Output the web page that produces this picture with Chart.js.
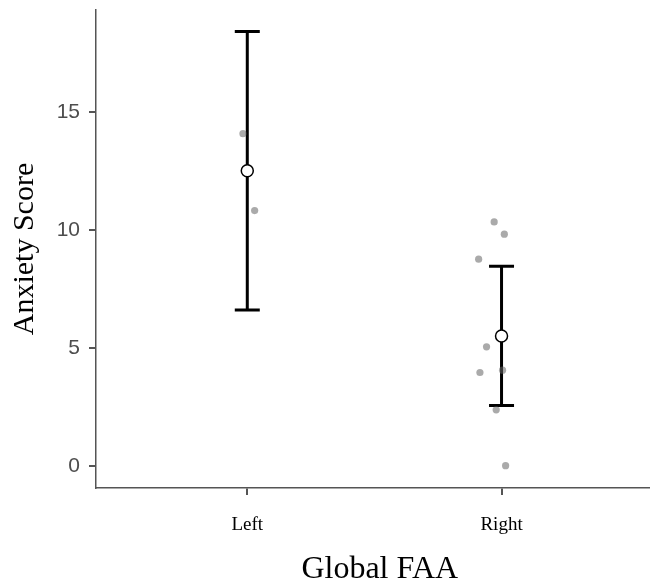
<!DOCTYPE html>
<html>
<head>
<meta charset="utf-8">
<script src="https://cdn.jsdelivr.net/npm/chart.js@4.4.0/dist/chart.umd.min.js"></script>
<style>
  html, body { margin: 0; padding: 0; background: #fff; overflow: hidden; }
  #wrap { width: 650px; height: 586px; overflow: hidden; }
</style>
</head>
<body>
<div id="wrap"><canvas id="myChart" width="671" height="586"></canvas></div>
<script>
// values
const groups = ['Left', 'Right'];
const groupMeans = [12.5, 5.5];
const ciLower = [6.6, 2.55];
const ciUpper = [18.4, 8.45];
const leftScores = [14.07, 10.81];
const leftJitter = [-0.017, 0.029];
const rightScores = [10.33, 9.81, 8.75, 5.04, 3.95, 4.05, 2.37, 0];
const rightJitter = [-0.029, 0.011, -0.09, -0.059, -0.085, 0.004, -0.021, 0.016];
const yTicks = [0, 5, 10, 15];

var rawPoints = [];
leftScores.forEach((v, i) => rawPoints.push({ x: 1 + leftJitter[i], y: v }));
rightScores.forEach((v, i) => rawPoints.push({ x: 2 + rightJitter[i], y: v }));
var meanPoints = groupMeans.map((m, i) => ({ x: i + 1, y: m }));

const serif = "'Liberation Serif', 'Times New Roman', serif";
const sans = "'Liberation Sans', Arial, sans-serif";

// whiskers with caps, drawn under the points
const errorBars = {
  id: 'errorBars',
  beforeDatasetsDraw(chart) {
    const ctx = chart.ctx;
    const xs = chart.scales.x, ys = chart.scales.y;
    ctx.save();
    ctx.strokeStyle = '#000';
    ctx.lineWidth = 3;
    groups.forEach((g, i) => {
      let px = xs.getPixelForValue(i + 1);
      let top = ys.getPixelForValue(ciUpper[i]);
      let bot = ys.getPixelForValue(ciLower[i]);
      ctx.beginPath();
      ctx.moveTo(px, top); ctx.lineTo(px, bot);
      ctx.moveTo(px - 12.5, top); ctx.lineTo(px + 12.5, top);
      ctx.moveTo(px - 12.5, bot); ctx.lineTo(px + 12.5, bot);
      ctx.stroke();
    });
    ctx.restore();
  }
};

var chart = new Chart('myChart', {
  type: 'scatter',
  data: {
    datasets: [{
      data: meanPoints,
      order: 0,
      backgroundColor: '#fff',
      borderColor: '#000',
      borderWidth: 1.5,
      pointRadius: 6
    }, {
      data: rawPoints,
      order: 1,
      backgroundColor: 'rgba(100,100,100,0.55)',
      borderWidth: 0,
      pointRadius: 3.6
    }]
  },
  options: {
    responsive: false,
    animation: false,
    events: [],
    layout: { padding: { top: 10, left: 0, right: 0, bottom: 0 } },
    plugins: { legend: { display: false }, tooltip: { enabled: false } },
    scales: {
      x: {
        type: 'linear',
        min: 0.405,
        max: 2.637,
        afterBuildTicks: s => { s.ticks = [1, 2].map(v => ({ value: v })); },
        afterFit: s => { s.height = 98; s.paddingLeft = 0; s.paddingRight = 0; },
        ticks: {
          callback: v => groups[v - 1],
          font: { family: serif, size: 19 },
          color: '#000',
          padding: 19,
          maxRotation: 0
        },
        grid: { drawOnChartArea: false, tickLength: 7, color: '#555', lineWidth: 2 },
        border: { color: '#555', width: 1.5 },
        title: {
          display: true,
          text: 'Global FAA',
          color: '#000',
          font: { family: serif, size: 32, lineHeight: 1 },
          padding: { top: 0, bottom: 0 }
        }
      },
      y: {
        min: -0.944,
        max: 19.31,
        afterBuildTicks: s => { s.ticks = yTicks.map(v => ({ value: v })); },
        afterFit: s => { s.width = 96; s.paddingTop = 0; s.paddingBottom = 0; },
        ticks: {
          font: { family: sans, size: 21 },
          color: '#4d4d4d',
          padding: 9
        },
        grid: { drawOnChartArea: false, tickLength: 7, color: '#555', lineWidth: 2 },
        border: { color: '#555', width: 1.5 },
        title: {
          display: true,
          text: 'Anxiety Score',
          color: '#000',
          font: { family: serif, size: 30, lineHeight: 1 },
          padding: { top: 10, bottom: 0 }
        }
      }
    }
  },
  plugins: [errorBars]
});
</script>
</body>
</html>
